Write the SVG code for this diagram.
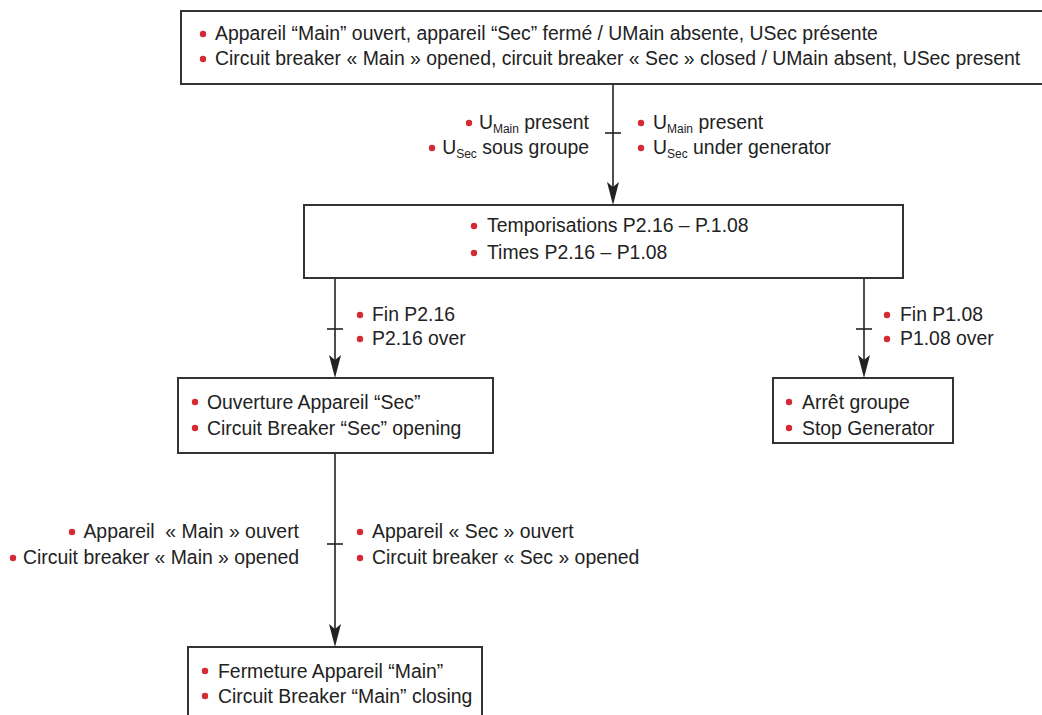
<svg xmlns="http://www.w3.org/2000/svg" xmlns:xlink="http://www.w3.org/1999/xlink" width="1042" height="715" viewBox="0 0 1042 715">
<style>
.box{fill:#fff;stroke:#333;stroke-width:2}
.ln{stroke:#222;stroke-width:1.6;fill:none}
.t{font-family:"Liberation Sans",Arial,sans-serif;font-size:19.4px;fill:#222}
.sub{font-size:12px}
.b{fill:#d42a33}
.ah{fill:#222}
</style>
<defs>
<path id="ah" class="ah" d="M0,0 L-6,-23 L0,-18 L6,-23 Z"/>
</defs>
<rect width="1042" height="715" fill="#fff"/>

<g id="connectors">
  <line class="ln" x1="613" y1="84" x2="613" y2="195"/>
  <line class="ln" x1="605" y1="133" x2="621" y2="133"/>
  <use xlink:href="#ah" x="613" y="205"/>

  <line class="ln" x1="335" y1="278" x2="335" y2="368"/>
  <line class="ln" x1="327" y1="329" x2="343" y2="329"/>
  <use xlink:href="#ah" x="335" y="378"/>

  <line class="ln" x1="864" y1="278" x2="864" y2="368"/>
  <line class="ln" x1="856" y1="329" x2="872" y2="329"/>
  <use xlink:href="#ah" x="864" y="378"/>

  <line class="ln" x1="335" y1="453" x2="335" y2="637"/>
  <line class="ln" x1="327" y1="544" x2="343" y2="544"/>
  <use xlink:href="#ah" x="335" y="647"/>

  <g id="label-c1">
    <circle class="b" cx="469" cy="123" r="3.2"/>
    <text class="t" x="589" y="129" text-anchor="end">U<tspan class="sub" dy="4">Main</tspan><tspan dy="-4"> present</tspan></text>
    <circle class="b" cx="432" cy="148" r="3.2"/>
    <text class="t" x="589" y="154" text-anchor="end">U<tspan class="sub" dy="4">Sec</tspan><tspan dy="-4"> sous groupe</tspan></text>
    <circle class="b" cx="641" cy="123" r="3.2"/>
    <text class="t" x="653" y="129">U<tspan class="sub" dy="4">Main</tspan><tspan dy="-4"> present</tspan></text>
    <circle class="b" cx="641" cy="148" r="3.2"/>
    <text class="t" x="653" y="154">U<tspan class="sub" dy="4">Sec</tspan><tspan dy="-4"> under generator</tspan></text>
  </g>
  <g id="label-c2">
    <circle class="b" cx="360" cy="315" r="3.2"/>
    <text class="t" x="372" y="321">Fin P2.16</text>
    <circle class="b" cx="360" cy="339" r="3.2"/>
    <text class="t" x="372" y="345">P2.16 over</text>
  </g>
  <g id="label-c3">
    <circle class="b" cx="887" cy="315" r="3.2"/>
    <text class="t" x="900" y="321">Fin P1.08</text>
    <circle class="b" cx="887" cy="339" r="3.2"/>
    <text class="t" x="900" y="345">P1.08 over</text>
  </g>
  <g id="label-c4">
    <circle class="b" cx="72" cy="532" r="3.2"/>
    <text class="t" x="299" y="538" text-anchor="end" xml:space="preserve">Appareil  « Main » ouvert</text>
    <circle class="b" cx="13" cy="558" r="3.2"/>
    <text class="t" x="299" y="564" text-anchor="end">Circuit breaker « Main » opened</text>
    <circle class="b" cx="360" cy="532" r="3.2"/>
    <text class="t" x="372" y="538">Appareil « Sec » ouvert</text>
    <circle class="b" cx="360" cy="558" r="3.2"/>
    <text class="t" x="372" y="564">Circuit breaker « Sec » opened</text>
  </g>
</g>

<g id="node-start">
  <rect class="box" x="181" y="11" width="866" height="73"/>
  <circle class="b" cx="203" cy="34" r="3.2"/>
  <text class="t" x="215" y="40">Appareil “Main” ouvert, appareil “Sec” fermé / UMain absente, USec présente</text>
  <circle class="b" cx="203" cy="59" r="3.2"/>
  <text class="t" x="215" y="65">Circuit breaker « Main » opened, circuit breaker « Sec » closed / UMain absent, USec present</text>
</g>

<g id="node-times">
  <rect class="box" x="304" y="205" width="599" height="73"/>
  <circle class="b" cx="474" cy="226" r="3.2"/>
  <text class="t" x="487" y="232">Temporisations P2.16 – P.1.08</text>
  <circle class="b" cx="474" cy="253" r="3.2"/>
  <text class="t" x="487" y="259">Times P2.16 – P1.08</text>
</g>

<g id="node-open-sec">
  <rect class="box" x="178" y="378" width="315" height="75"/>
  <circle class="b" cx="195" cy="402" r="3.2"/>
  <text class="t" x="207" y="409">Ouverture Appareil “Sec”</text>
  <circle class="b" cx="195" cy="428" r="3.2"/>
  <text class="t" x="207" y="435">Circuit Breaker “Sec” opening</text>
</g>

<g id="node-stop">
  <rect class="box" x="773" y="378" width="180" height="65"/>
  <circle class="b" cx="789" cy="402" r="3.2"/>
  <text class="t" x="802" y="409">Arrêt groupe</text>
  <circle class="b" cx="789" cy="428" r="3.2"/>
  <text class="t" x="802" y="435">Stop Generator</text>
</g>

<g id="node-close-main">
  <rect class="box" x="188" y="647" width="294" height="80"/>
  <circle class="b" cx="205" cy="671" r="3.2"/>
  <text class="t" x="218" y="678">Fermeture Appareil “Main”</text>
  <circle class="b" cx="205" cy="696" r="3.2"/>
  <text class="t" x="218" y="703">Circuit Breaker “Main” closing</text>
</g>
</svg>
